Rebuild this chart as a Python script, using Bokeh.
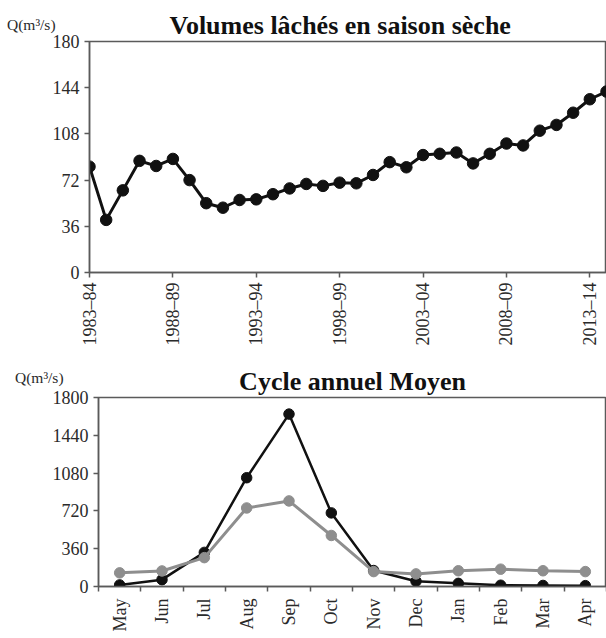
from math import pi
from bokeh.plotting import figure
from bokeh.models import FixedTicker, Label, Range1d, Title
from bokeh.embed import file_html
from bokeh.resources import INLINE

# ---------------- data ----------------
years = ["1983–84", "1984–85", "1985–86", "1986–87", "1987–88", "1988–89",
         "1989–90", "1990–91", "1991–92", "1992–93", "1993–94", "1994–95",
         "1995–96", "1996–97", "1997–98", "1998–99", "1999–00", "2000–01",
         "2001–02", "2002–03", "2003–04", "2004–05", "2005–06", "2006–07",
         "2007–08", "2008–09", "2009–10", "2010–11", "2011–12", "2012–13",
         "2013–14", "2014–15"]
dry_season_q = [82.5, 41, 64, 87, 83, 88.5, 72, 54, 50.5, 56.5, 57, 61,
                65.5, 69, 67.5, 70, 69.5, 76, 86, 82, 91.5, 92.5, 93.5, 85,
                92.5, 100.5, 99, 110.5, 115, 124.5, 135, 141]
year_ticks = [0, 5, 10, 15, 20, 25, 30]
top_yticks = [0, 36, 72, 108, 144, 180]

months = ["May", "Jun", "Jul", "Aug", "Sep", "Oct", "Nov", "Dec",
          "Jan", "Feb", "Mar", "Apr"]
cycle_black = [15, 65, 325, 1036, 1642, 701, 152, 50, 30, 12, 10, 8]
cycle_grey = [130, 148, 275, 748, 815, 486, 142, 120, 150, 165, 150, 142]
bot_yticks = [0, 360, 720, 1080, 1440, 1800]

title_top = "Volumes lâchés en saison sèche"
title_bot = "Cycle annuel Moyen"
unit_label = "Q(m³/s)"

FONT = "Liberation Serif"
AXC = "#5a5a5a"
TXT = "#2a2a2a"
W = 606


def style(p):
    p.grid.grid_line_color = None
    p.outline_line_color = AXC
    p.outline_line_width = 1.5
    p.background_fill_color = "white"
    p.border_fill_color = "white"
    for ax in (p.xaxis[0], p.yaxis[0]):
        ax.axis_line_color = AXC
        ax.axis_line_width = 1.5
        ax.major_tick_line_color = AXC
        ax.major_tick_line_width = 1.5
        ax.major_tick_out = 5
        ax.major_tick_in = 0
        ax.minor_tick_line_color = None
        ax.major_label_text_font = FONT
        ax.major_label_text_font_size = "18px"
        ax.major_label_text_color = TXT
        ax.major_label_standoff = 5


def add_title(p, text, align, offset):
    p.title = Title(text=text, align=align, offset=offset, standoff=3,
                    text_font=FONT, text_font_size="26px",
                    text_font_style="bold", text_color="#111111")


def add_unit(p, x, y):
    p.add_layout(Label(x=x, y=y, x_units="screen", y_units="screen",
                       text=unit_label, text_font=FONT,
                       text_font_size="15.5px", text_color=TXT,
                       text_align="left", text_baseline="alphabetic"), "left")


# ---------------- top chart ----------------
xs_top = list(range(len(years)))
top = figure(width=W, height=350, x_range=Range1d(0, 31), y_range=Range1d(0, 180),
             output_backend="svg", toolbar_location=None,
             min_border_left=87, min_border_right=0, min_border_top=41,
             min_border_bottom=78)
style(top)
add_title(top, title_top, "left", 80)
top.xaxis.ticker = FixedTicker(ticks=year_ticks)
top.xaxis.major_label_overrides = {i: years[i] for i in year_ticks}
top.xaxis.major_label_orientation = pi / 2
top.yaxis.ticker = FixedTicker(ticks=top_yticks)
top.line(xs_top, dry_season_q, line_color="#111111", line_width=3)
top.scatter(xs_top, dry_season_q, size=11.5, fill_color="#111111",
            line_color="#111111")
add_unit(top, 6.5, 248.5)

# ---------------- bottom chart ----------------
xs_bot = [i + 0.5 for i in range(len(months))]
bot = figure(width=W, height=284, x_range=Range1d(0, 12), y_range=Range1d(0, 1800),
             output_backend="svg", toolbar_location=None,
             min_border_left=96, min_border_right=0, min_border_top=47,
             min_border_bottom=46)
style(bot)
add_title(bot, title_bot, "center", 0)
bot.xaxis.ticker = FixedTicker(ticks=xs_bot, minor_ticks=list(range(13)))
bot.xaxis.major_label_overrides = {x: m for x, m in zip(xs_bot, months)}
bot.xaxis.major_label_orientation = pi / 2
bot.xaxis.major_tick_line_color = None
bot.xaxis.minor_tick_line_color = AXC
bot.xaxis.minor_tick_line_width = 1.5
bot.xaxis.minor_tick_out = 5
bot.xaxis.minor_tick_in = 0
bot.xaxis.major_label_standoff = 7
bot.yaxis.ticker = FixedTicker(ticks=bot_yticks)
bot.line(xs_bot, cycle_black, line_color="#111111", line_width=2.5)
bot.scatter(xs_bot, cycle_black, size=10.5, fill_color="#111111",
            line_color="#111111")
bot.line(xs_bot, cycle_grey, line_color="#8e8e8e", line_width=3)
bot.scatter(xs_bot, cycle_grey, size=10.5, fill_color="#8e8e8e",
            line_color="#8e8e8e")
add_unit(bot, 14.5, 208.7)

# two independent roots, stacked, so that each frame keeps its own left edge
open("out.html", "w").write(file_html([top, bot], INLINE))
